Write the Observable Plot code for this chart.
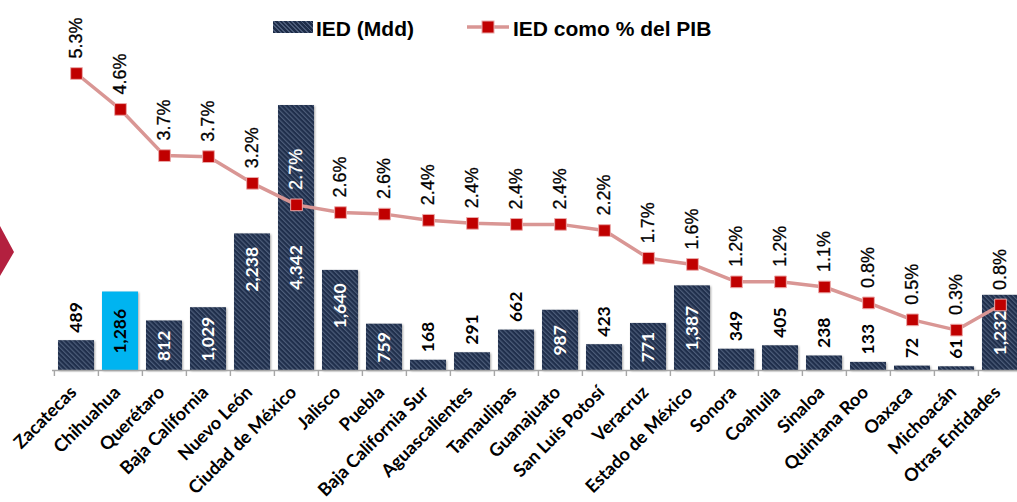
<!DOCTYPE html>
<html><head><meta charset="utf-8">
<script src="https://cdn.jsdelivr.net/npm/d3@7"></script>
<script src="https://cdn.jsdelivr.net/npm/@observablehq/plot@0.6"></script>
<style>
body{margin:0;background:#fff;}
#wrap{position:relative;width:1017px;height:502px;overflow:hidden;background:#fff;}
#wrap svg{position:absolute;left:0;top:0;overflow:hidden;}
.bars rect{filter:drop-shadow(1px 1px 1px rgba(0,0,0,0.35));}
#chev{position:absolute;left:0;top:226px;width:14px;height:50px;background:#B3203F;clip-path:polygon(0 0,100% 52%,0 100%);}
.lg{position:absolute;font:bold 21px "Liberation Sans",Arial,sans-serif;color:#000;white-space:nowrap;line-height:1;}
#sw{position:absolute;left:273px;top:21px;width:40px;height:12px;background:repeating-linear-gradient(45deg,#1d2c48 0 2px,#4b5b79 2px 3.2px);}
</style></head><body>
<div id="wrap">
  <div id="chev"></div>
  <div id="sw"></div>
  <div class="lg" style="left:316px;top:18px;">IED (Mdd)</div>
  <svg id="lgline" width="44" height="16" style="left:467px;top:19px;"><line x1="0" y1="8" x2="42" y2="8" stroke="#D99694" stroke-width="3.5"/><rect x="15" y="2" width="12" height="12" fill="#C00000" stroke="#E8A8A8" stroke-width="1"/></svg>
  <div class="lg" style="left:513px;top:18px;">IED como % del PIB</div>
</div>
<script>
const states = ["Zacatecas","Chihuahua","Querétaro","Baja California","Nuevo León","Ciudad de México","Jalisco","Puebla","Baja California Sur","Aguascalientes","Tamaulipas","Guanajuato","San Luis Potosí","Veracruz","Estado de México","Sonora","Coahuila","Sinaloa","Quintana Roo","Oaxaca","Michoacán","Otras Entidades"];
const ied = [489,1286,812,1029,2238,4342,1640,759,168,291,662,987,423,771,1387,349,405,238,133,72,61,1232];
const pct = [5.30,4.60,3.70,3.68,3.16,2.74,2.59,2.56,2.44,2.38,2.36,2.36,2.24,1.70,1.58,1.24,1.24,1.14,0.83,0.50,0.30,0.79];
const highlight = "Chihuahua";

const data = states.map((s,i)=>({state:s, ied:ied[i], pct:pct[i]}));
const W = 1017, H = 502;
const xOpts = {type:"band", domain: states, range:[52, 52+22*44.2], paddingInner:0.19, paddingOuter:0.095};
const y1Opts = {domain:[0, 4342], range:[370, 105]};
const y2Opts = {domain:[0, 5.3], range:[345, 73]};
const fmt = d3.format(",");
const unitsPerPx = 4342/265;
const step = 44.2;

const lblFont = {fontFamily:"Lato, 'Liberation Sans', sans-serif", fontWeight:"bold"};
const inside = d => d.ied > 700;
const labelPos = d => d.ied < 1500 ? d.ied/2 : Math.min(d.ied - 580, 1690);

const p1 = Plot.plot({
  width:W, height:H, marginLeft:52, marginRight:0, marginTop:0, marginBottom:132,
  x:{...xOpts, axis:null}, y:{...y1Opts, axis:null},
  marks:[
    Plot.barY(data.filter(d=>d.state!==highlight), {x:"state", y:"ied", fill:"url(#hatch)", className:"bars"}),
    Plot.barY(data.filter(d=>d.state===highlight), {x:"state", y:"ied", fill:"#00B4F0", className:"bars"}),
    Plot.ruleY([0], {stroke:"#a6a6a6", strokeWidth:1.4}),
    Plot.ruleX(states, {x:d=>d, dx:-step/2, y1:0, y2:-6*unitsPerPx, stroke:"#a6a6a6", strokeWidth:1.4}),
    Plot.text(states, {x:d=>d, frameAnchor:"bottom", dy:23, dx:1, rotate:-45, textAnchor:"end", fontSize:18, fill:"#000", ...lblFont}),
    Plot.text(data.filter(d=>!inside(d)), {x:"state", y:"ied", text:d=>fmt(d.ied), rotate:-90, textAnchor:"start", dy:-8, fontSize:17.5, fill:"#000", ...lblFont}),
    Plot.text(data.filter(d=>inside(d) && d.state!==highlight), {x:"state", y:labelPos, text:d=>fmt(d.ied), rotate:-90, textAnchor:"middle", fontSize:17.5, fill:"#fff", ...lblFont}),
    Plot.text(data.filter(d=>inside(d) && d.state===highlight), {x:"state", y:labelPos, text:d=>fmt(d.ied), rotate:-90, textAnchor:"middle", fontSize:17.5, fill:"#000", ...lblFont})
  ]
});
p1.insertAdjacentHTML("afterbegin", `<defs><pattern id="hatch" patternUnits="userSpaceOnUse" width="3.4" height="3.4" patternTransform="rotate(-45)"><rect width="3.4" height="3.4" fill="#1f2e4b"/><rect width="1.2" height="3.4" fill="#4d5d7a"/></pattern></defs>`);

const ys1 = p1.scale("y");
const ys2 = Plot.scale({y:y2Opts});
const onBar = d => ys1.apply(d.ied) < ys2.apply(d.pct) - 40;

const p2 = Plot.plot({
  width:W, height:H, marginLeft:52, marginRight:0, marginTop:0, marginBottom:132,
  x:{...xOpts, axis:null}, y:{...y2Opts, axis:null},
  style:{background:"transparent"},
  marks:[
    Plot.line(data, {x:"state", y:"pct", stroke:"#D99694", strokeWidth:3.5}),
    Plot.dot(data, {x:"state", y:"pct", symbol:"square", r:6.6, fill:"#C00000", stroke:"#EBA9A9", strokeWidth:1}),
    Plot.text(data.filter(d=>!onBar(d)), {x:"state", y:"pct", text:d=>d.pct.toFixed(1)+"%", rotate:-90, textAnchor:"start", dy:-15, fontSize:18, fill:"#000", stroke:"#000", strokeWidth:0.3, fontFamily:"'Liberation Sans', Arial, sans-serif"}),
    Plot.text(data.filter(d=>onBar(d)), {x:"state", y:"pct", text:d=>d.pct.toFixed(1)+"%", rotate:-90, textAnchor:"start", dy:-15, fontSize:18, fill:"#fff", stroke:"#fff", strokeWidth:0.3, fontFamily:"'Liberation Sans', Arial, sans-serif"})
  ]
});

const wrap = document.getElementById("wrap");
wrap.insertBefore(p1, wrap.firstChild);
wrap.insertBefore(p2, p1.nextSibling);
</script>
</body></html>
